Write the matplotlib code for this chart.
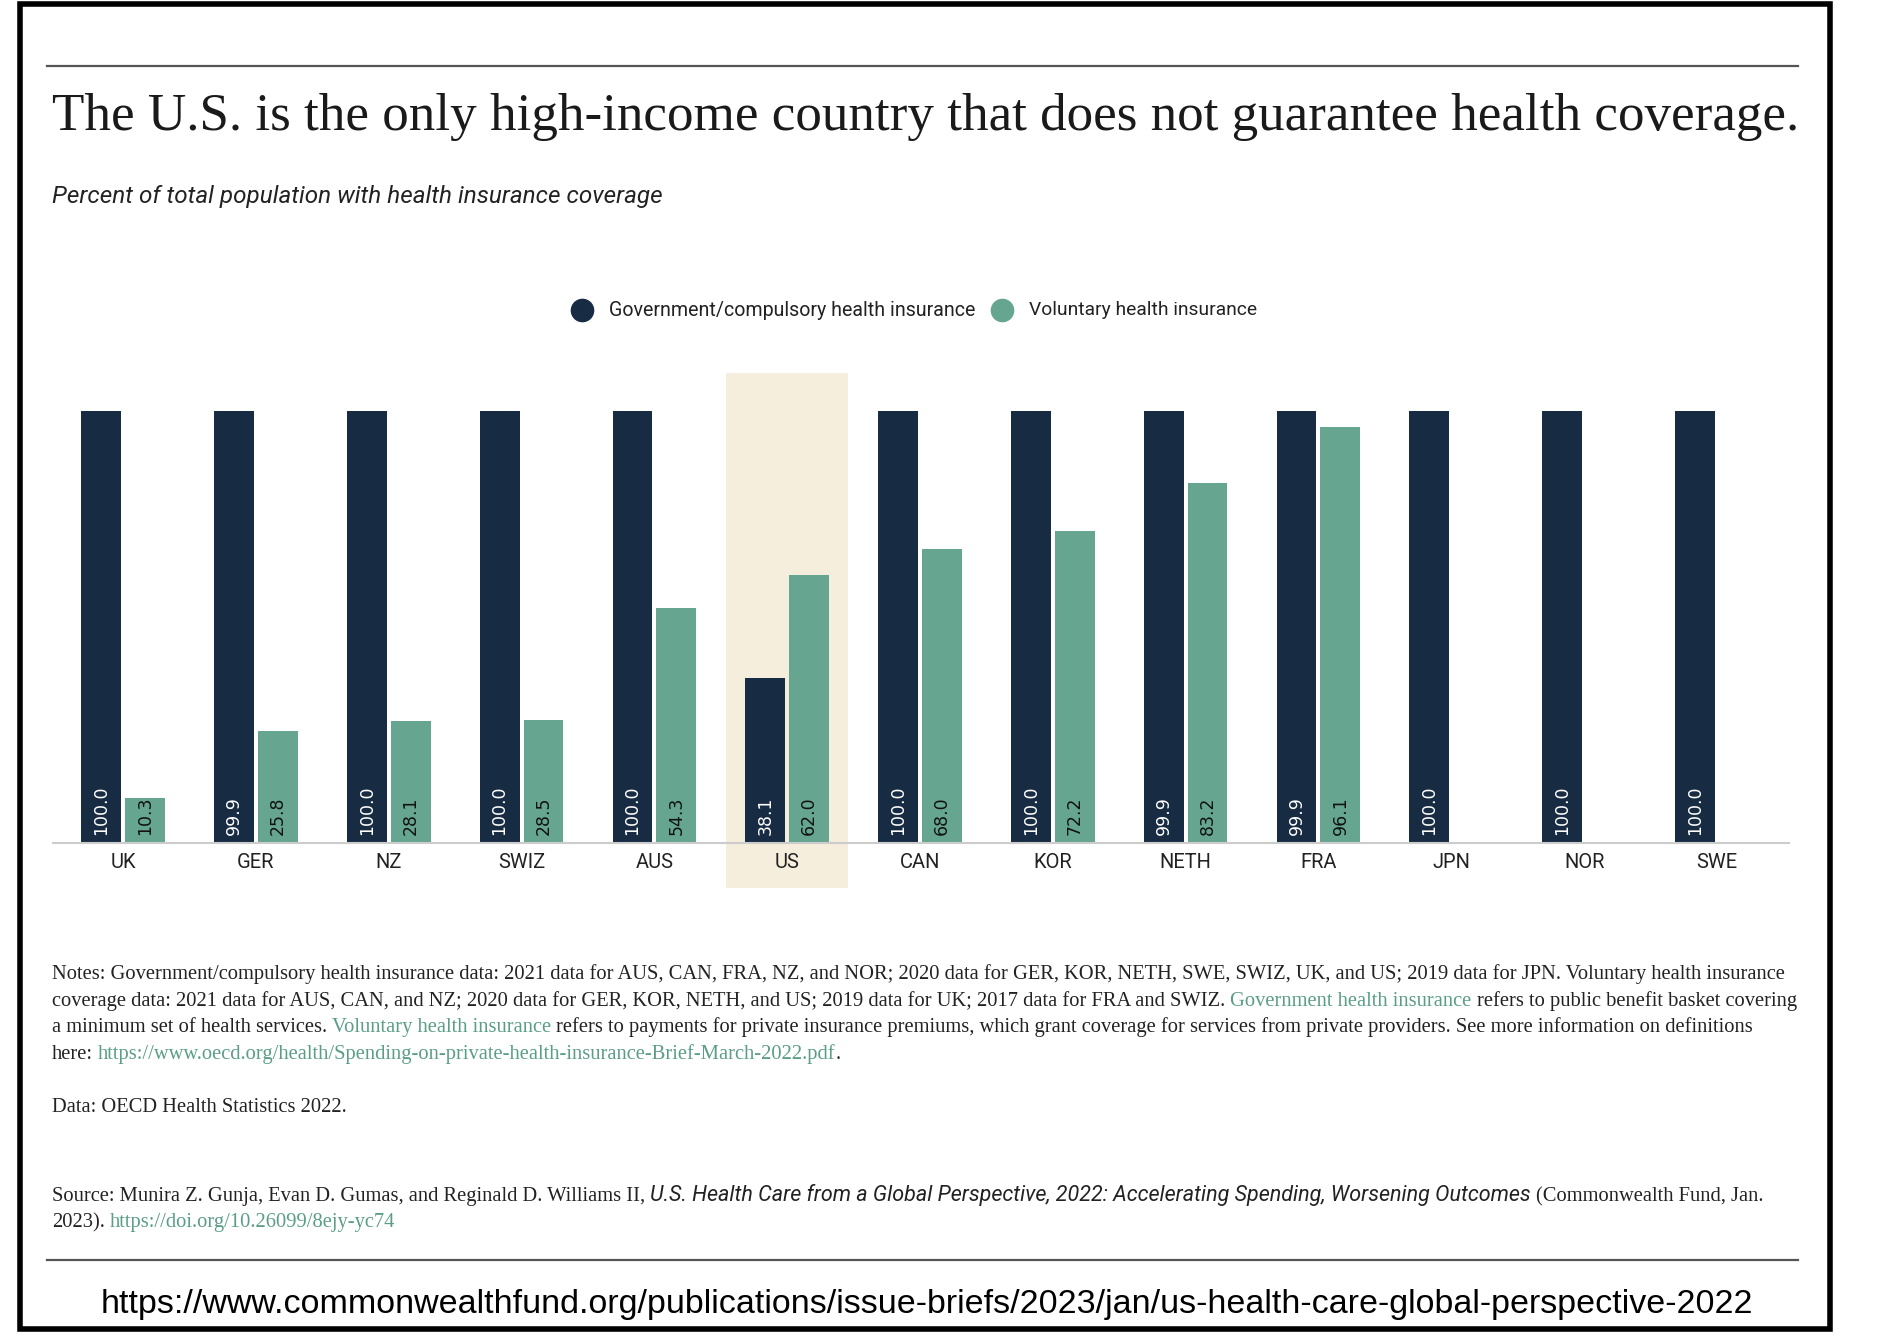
import numpy as np
import matplotlib.pyplot as plt
from matplotlib.lines import Line2D
from matplotlib.patches import Rectangle

# Chart data
countries = ["UK", "GER", "NZ", "SWIZ", "AUS", "US", "CAN", "KOR", "NETH", "FRA", "JPN", "NOR", "SWE"]
gov = [100.0, 99.9, 100.0, 100.0, 100.0, 38.1, 100.0, 100.0, 99.9, 99.9, 100.0, 100.0, 100.0]
vol = [10.3, 25.8, 28.1, 28.5, 54.3, 62.0, 68.0, 72.2, 83.2, 96.1, np.nan, np.nan, np.nan]
highlight = "US"

legend_labels = ["Government/compulsory health insurance", "Voluntary health insurance"]

title = "The U.S. is the only high-income country that does not guarantee health coverage."
subtitle = "Percent of total population with health insurance coverage"

notes_line1 = ("Notes: Government/compulsory health insurance data: 2021 data for AUS, CAN, FRA, NZ, and NOR; "
               "2020 data for GER, KOR, NETH, SWE, SWIZ, UK, and US; 2019 data for JPN. Voluntary health insurance")
notes_rest = [
    [("coverage data: 2021 data for AUS, CAN, and NZ; 2020 data for GER, KOR, NETH, and US; 2019 data for UK; "
      "2017 data for FRA and SWIZ. ", "plain"),
     ("Government health insurance", "link"),
     (" refers to public benefit basket covering", "plain")],
    [("a minimum set of health services. ", "plain"),
     ("Voluntary health insurance", "link"),
     (" refers to payments for private insurance premiums, which grant coverage for services from "
      "private providers. See more information on definitions", "plain")],
    [("here: ", "plain"),
     ("https://www.oecd.org/health/Spending-on-private-health-insurance-Brief-March-2022.pdf", "link"),
     (".", "plain")],
]
data_note = "Data: OECD Health Statistics 2022."
source_lines = [
    [("Source: Munira Z. Gunja, Evan D. Gumas, and Reginald D. Williams II, ", "plain"),
     ("U.S. Health Care from a Global Perspective, 2022: Accelerating Spending, Worsening Outcomes", "ital"),
     (" (Commonwealth Fund, Jan.", "plain")],
    [("2023). ", "plain"),
     ("https://doi.org/10.26099/8ejy-yc74", "link")],
]
page_url = "https://www.commonwealthfund.org/publications/issue-briefs/2023/jan/us-health-care-global-perspective-2022"

NAVY = "#172b42"
GREEN = "#66a690"
LINK = "#5a9e86"
CREAM = "#f6eedc"
INK = "#222222"

W, H = 1882, 1338


def fx(px):
    return px / W


def fy(py):
    return 1 - py / H


fig = plt.figure(figsize=(W / 100, H / 100), dpi=100)
renderer = fig.canvas.get_renderer()


def width_of(t):
    return t.get_window_extent(renderer=renderer).width


def fit(t, target):
    # scale the font so the text spans roughly the target width (pixels)
    t.set_fontsize(t.get_fontsize() * target / width_of(t))
    return t


STYLES = {
    "plain": dict(family="Liberation Serif", color=INK),
    "link": dict(family="Liberation Serif", color=LINK),
    "ital": dict(family="Roboto", style="italic", color=INK),
}
ITAL_SCALE = 1.05


def space_width(size, **kw):
    a = fig.text(0, 0, "n n", fontsize=size, **kw)
    b = fig.text(0, 0, "nn", fontsize=size, **kw)
    w = width_of(a) - width_of(b)
    a.remove()
    b.remove()
    return w


def draw_line(x, y, runs, size):
    for text, kind in runs:
        kw = STYLES[kind]
        s = size * (ITAL_SCALE if kind == "ital" else 1.0)
        sp = space_width(s, **kw)
        core = text.strip(" ")
        lead = len(text) - len(text.lstrip(" "))
        trail = len(text) - len(text.rstrip(" "))
        x += lead * sp
        t = fig.text(fx(x), fy(y), core, fontsize=s, va="baseline", **kw)
        x += width_of(t) + trail * sp
    return x


# ---- frame and rules
fig.add_artist(Rectangle((fx(19.5), fy(1329)), (1830 - 19.5) / W, (1329 - 4) / H,
                         transform=fig.transFigure, fill=False, lw=4, ec="black"))
for yy in (66, 1260):
    fig.add_artist(Line2D([fx(47), fx(1798)], [fy(yy), fy(yy)], color="#555555", lw=1.6,
                          transform=fig.transFigure))

# ---- titles
t = fig.text(fx(52), fy(130), title, family="Liberation Serif", fontsize=40,
             va="baseline", color="#1a1a1a")
fit(t, 1745)
t = fig.text(fx(52), fy(203), subtitle, family="Roboto", style="italic", fontsize=16,
             va="baseline", color=INK)
fit(t, 611)

# ---- legend
for (cx, tx, target), label, col in zip([(582, 609, 366), (1002, 1029, 228)], legend_labels, [NAVY, GREEN]):
    fig.add_artist(Line2D([fx(cx)], [fy(310)], marker="o", ms=16, color=col, lw=0,
                          transform=fig.transFigure))
    t = fig.text(fx(tx), fy(310), label, family="Roboto", fontsize=13, va="center", color=INK)
    fit(t, target)

# ---- bars
ax = fig.add_axes([fx(52), fy(888), (1790 - 52) / W, (888 - 373) / H])
x = np.arange(len(countries))
bw, off = 0.30, 0.165
hi = countries.index(highlight)
ax.axvspan(hi - 0.46, hi + 0.46, color=CREAM, zorder=0, lw=0)
ax.bar(x - off, gov, bw, color=NAVY, zorder=2)
ax.bar(x + off, vol, bw, color=GREEN, zorder=2)
ax.axhline(0, color="#cccccc", lw=1.5, zorder=3)

for i, v in enumerate(gov):
    ax.text(i - off, 1.8, f"{v:.1f}", rotation=90, ha="center", va="bottom",
            color="white", fontsize=12.5, family="DejaVu Sans", zorder=4)
for i, v in enumerate(vol):
    if not np.isnan(v):
        ax.text(i + off, 1.8, f"{v:.1f}", rotation=90, ha="center", va="bottom",
                color="#111111", fontsize=12.5, family="DejaVu Sans", zorder=4)
for i, c in enumerate(countries):
    ax.text(i, -4.6, c, ha="center", va="center", fontsize=14.5, family="Roboto", color=INK)

ax.set_xlim(-0.535, 12.55)
ax.set_ylim(-10.5, 108.7)
ax.axis("off")

# ---- notes
t = fig.text(fx(52), fy(979), notes_line1, fontsize=14.5, va="baseline", **STYLES["plain"])
fit(t, 1733)
note_size = t.get_fontsize()
for k, runs in enumerate(notes_rest):
    draw_line(52, 979 + 26.7 * (k + 1), runs, note_size)
fig.text(fx(52), fy(1112), data_note, fontsize=note_size, va="baseline", **STYLES["plain"])
for k, runs in enumerate(source_lines):
    draw_line(52, 1201 + 26.5 * k, runs, note_size)

t = fig.text(fx(101), fy(1313), page_url, family="Liberation Sans", fontsize=22,
             va="baseline", color="black")
fit(t, 1647)

fig.savefig("out.png", dpi=100)
